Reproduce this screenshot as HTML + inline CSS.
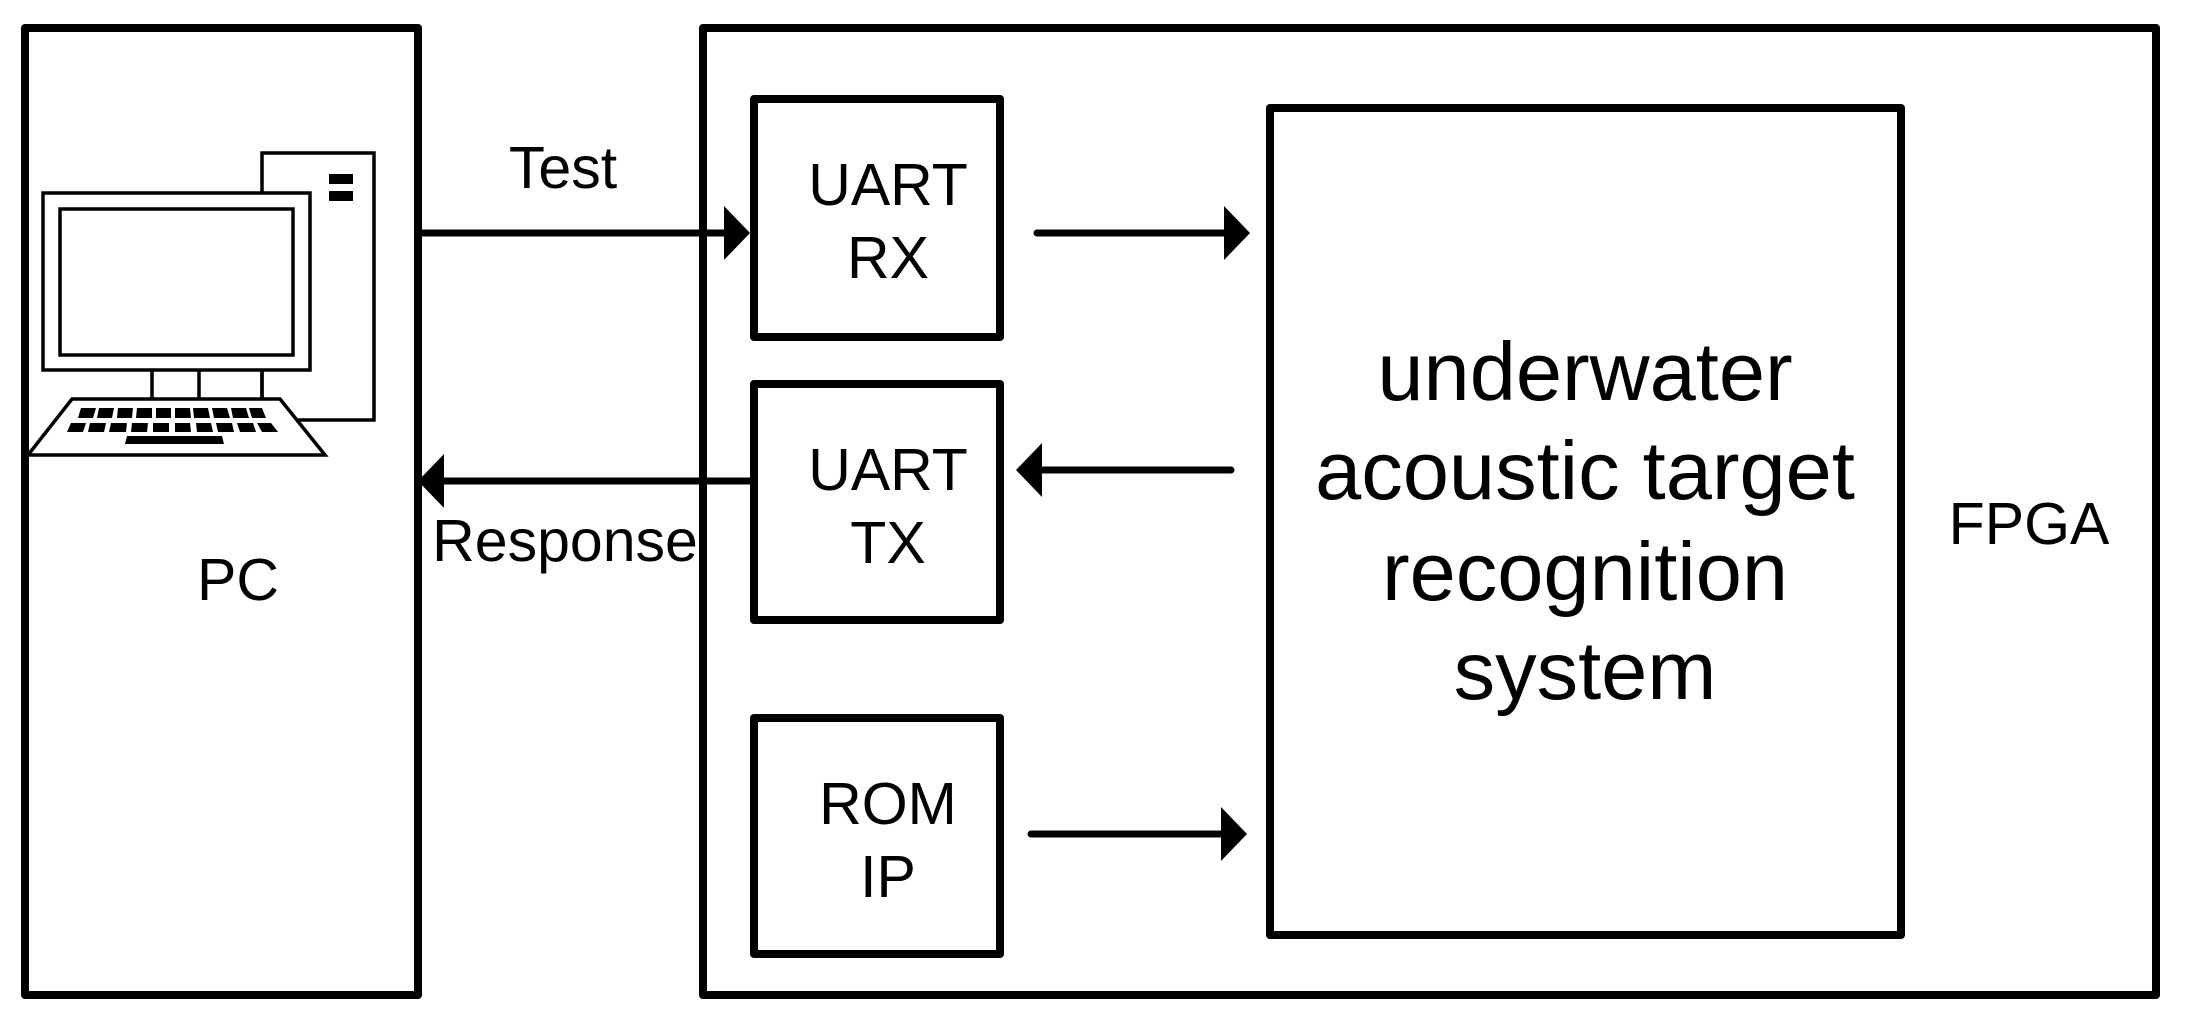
<!DOCTYPE html>
<html><head><meta charset="utf-8"><style>html,body{margin:0;padding:0;background:#fff}svg{display:block}text{font-family:"Liberation Sans",Arial,sans-serif;fill:#000}</style></head>
<body>
<svg width="2187" height="1030" viewBox="0 0 2187 1030" xmlns="http://www.w3.org/2000/svg">
<g fill="none" stroke="#000" stroke-width="8" stroke-linejoin="round">
<rect x="25" y="28" width="393" height="967"/>
<rect x="703" y="28" width="1453" height="967"/>
<rect x="754" y="99" width="246" height="238"/>
<rect x="754" y="384" width="246" height="236"/>
<rect x="754" y="718" width="246" height="236"/>
<rect x="1270" y="108" width="631" height="827"/>
</g>
<g stroke="#000" stroke-width="7" stroke-linecap="round">
<line x1="418" y1="233" x2="730" y2="233"/>
<line x1="1037" y1="233" x2="1228" y2="233"/>
<line x1="1231" y1="470" x2="1040" y2="470"/>
<line x1="753" y1="481" x2="440" y2="481"/>
<line x1="1031" y1="834" x2="1225" y2="834"/>
</g>
<g fill="#000">
<polygon points="750,233 724,206 724,260"/>
<polygon points="1250,233 1224,206 1224,260"/>
<polygon points="1016,470 1042,443 1042,497"/>
<polygon points="418,481 444,454 444,508"/>
<polygon points="1247,834 1221,807 1221,861"/>
</g>
<g fill="#fff" stroke="#000" stroke-width="3.5">
<rect x="262" y="153" width="112" height="267"/>
<rect x="43" y="193" width="267" height="177"/>
<rect x="60" y="209" width="233" height="146"/>
<line x1="152" y1="370" x2="152" y2="399"/>
<line x1="199" y1="370" x2="199" y2="399"/>
<line x1="262" y1="370" x2="262" y2="399"/>
<polygon points="72,399 280,399 325,455 28,455"/>
</g>
<g fill="#000">
<rect x="329" y="174" width="24" height="10"/>
<rect x="329" y="191" width="24" height="10"/>
<polygon points="81,408 96,408 93,418 78,418"/>
<polygon points="99,408 114,408 112,418 97,418"/>
<polygon points="118,408 133,408 132,418 117,418"/>
<polygon points="137,408 152,408 152,418 136,418"/>
<polygon points="156,408 171,408 171,418 156,418"/>
<polygon points="175,408 190,408 191,418 175,418"/>
<polygon points="193,408 208,408 210,418 194,418"/>
<polygon points="212,408 227,408 230,418 214,418"/>
<polygon points="231,408 246,408 249,418 233,418"/>
<polygon points="249,408 262,408 266,418 252,418"/>
<polygon points="71,423 86,423 83,432 67,432"/>
<polygon points="90,423 106,423 104,432 88,432"/>
<polygon points="111,423 127,423 126,432 109,432"/>
<polygon points="132,423 148,423 147,432 131,432"/>
<polygon points="153,423 169,423 169,432 153,432"/>
<polygon points="175,423 190,423 191,432 175,432"/>
<polygon points="196,423 211,423 213,432 197,432"/>
<polygon points="216,423 232,423 234,432 218,432"/>
<polygon points="237,423 253,423 256,432 240,432"/>
<polygon points="257,423 271,423 278,432 262,432"/>
<polygon points="127,436 222,436 224,444 125,444"/>
</g>
<g font-size="59" text-anchor="middle">
<text x="563" y="188">Test</text>
<text x="565" y="561">Response</text>
<text x="238" y="600">PC</text>
<text x="2029" y="544">FPGA</text>
<text x="888" y="205">UART</text>
<text x="888" y="278">RX</text>
<text x="888" y="490">UART</text>
<text x="888" y="563">TX</text>
<text x="888" y="824">ROM</text>
<text x="888" y="897">IP</text>
</g>
<g font-size="83" text-anchor="middle">
<text x="1585" y="400">underwater</text>
<text x="1585" y="499">acoustic target</text>
<text x="1585" y="600">recognition</text>
<text x="1585" y="699">system</text>
</g>
</svg>
</body></html>
